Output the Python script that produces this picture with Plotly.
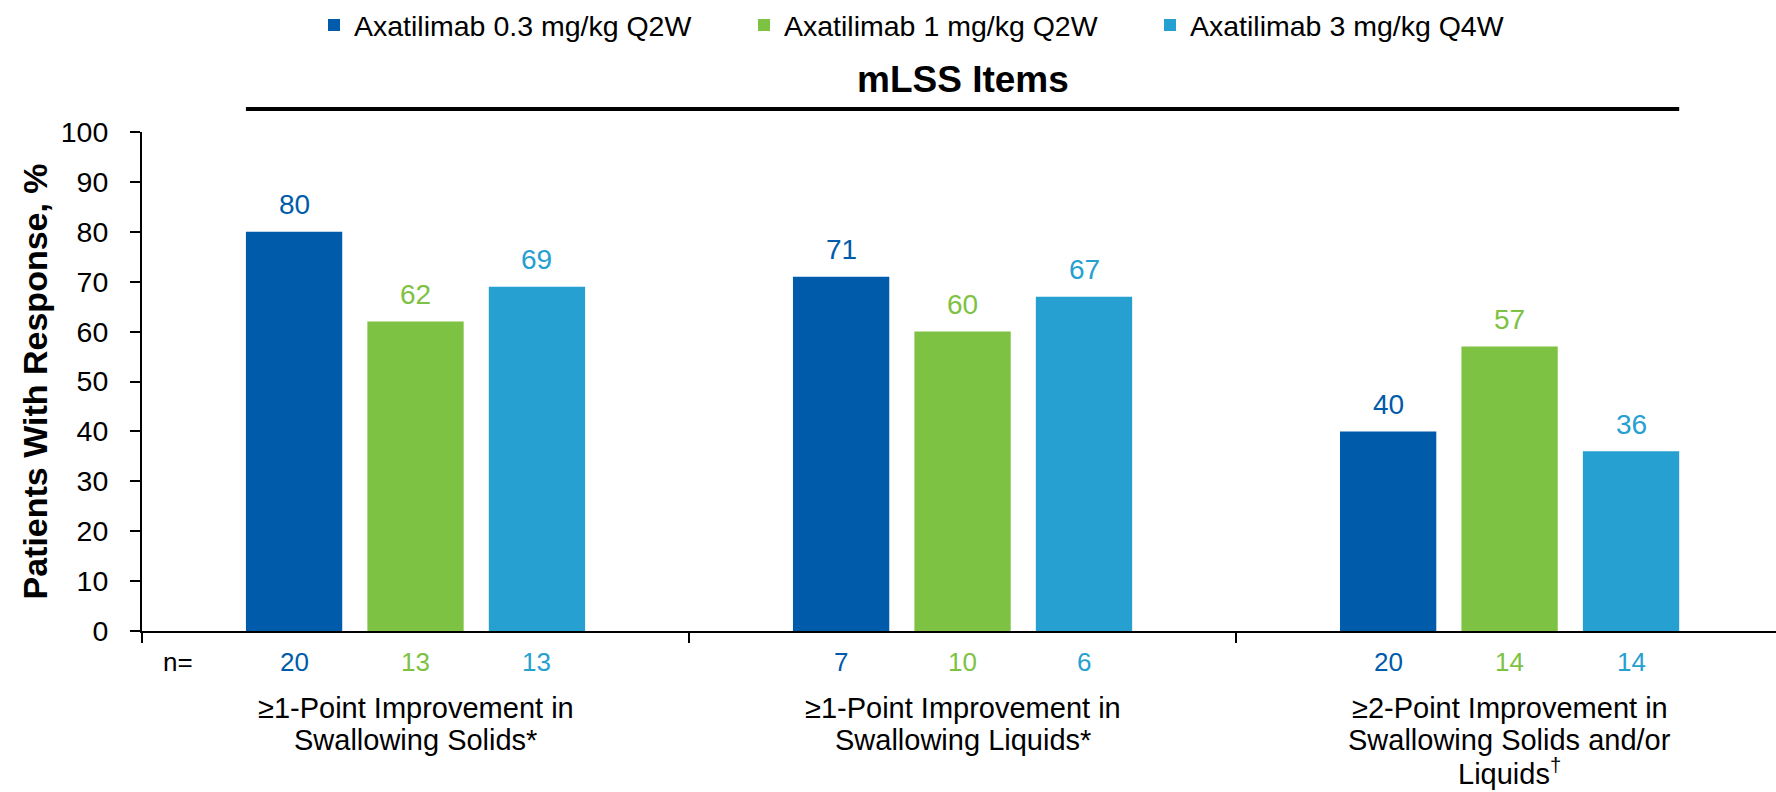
import plotly.graph_objects as go

# ---- data ----
categories = [
    ["≥1-Point Improvement in", "Swallowing Solids*"],
    ["≥1-Point Improvement in", "Swallowing Liquids*"],
    ["≥2-Point Improvement in", "Swallowing Solids and/or", "Liquids<sup>†</sup>"],
]
series_names = [
    "Axatilimab 0.3 mg/kg Q2W",
    "Axatilimab 1 mg/kg Q2W",
    "Axatilimab 3 mg/kg Q4W",
]
values_03 = [80, 71, 40]
values_1 = [62, 60, 57]
values_3 = [69, 67, 36]
n_03 = [20, 7, 20]
n_1 = [13, 10, 14]
n_3 = [13, 6, 14]
y_ticks = [0, 10, 20, 30, 40, 50, 60, 70, 80, 90, 100]
panel_title = "mLSS Items"
y_title = "Patients With Response, %"

colors = ["#005BAA", "#7DC242", "#269FD1"]
all_values = [values_03, values_1, values_3]
all_n = [n_03, n_1, n_3]

FONT = "Arial, Liberation Sans, sans-serif"
W, H = 1776, 792
L, R, T, B = 142, 0, 132, 161
plot_h = H - T - B

bargap = 0.334
bargroupgap = 0.207
slot = (1 - bargap) / 3
bar_w = slot * (1 - bargroupgap)

xpos = list(range(len(categories)))

fig = go.Figure()
legend_ids = ["legend", "legend2", "legend3"]
for i, (name, vals) in enumerate(zip(series_names, all_values)):
    fig.add_trace(go.Bar(
        x=xpos, y=vals, name=name,
        marker=dict(color=colors[i], line=dict(width=0)),
        legend=legend_ids[i],
        hoverinfo="skip",
    ))

def py2paper(py):
    return (H - B - py) / plot_h

annotations = []
# value labels
for i, vals in enumerate(all_values):
    off = (i - 1) * slot
    for xi, v in zip(xpos, vals):
        annotations.append(dict(
            x=xi + off, y=v, xref="x", yref="y", text=str(v), showarrow=False,
            yanchor="middle", xanchor="center", yshift=27,
            font=dict(family=FONT, size=28, color=colors[i]),
        ))
# n row
annotations.append(dict(
    x=-0.435, y=py2paper(662), xref="x", yref="paper", text="n=", showarrow=False,
    xanchor="center", yanchor="middle", font=dict(family=FONT, size=26, color="black"),
))
for i, ns in enumerate(all_n):
    off = (i - 1) * slot
    for xi, n in zip(xpos, ns):
        annotations.append(dict(
            x=xi + off, y=py2paper(662), xref="x", yref="paper", text=str(n), showarrow=False,
            xanchor="center", yanchor="middle", font=dict(family=FONT, size=26, color=colors[i]),
        ))
# category labels (one annotation per line)
line_py = [708, 740, 772]
for xi, lines in zip(xpos, categories):
    for j, t in enumerate(lines):
        annotations.append(dict(
            x=xi, y=py2paper(line_py[j]), xref="x", yref="paper", text=t, showarrow=False,
            xanchor="center", yanchor="middle", font=dict(family=FONT, size=29, color="black"),
        ))
# panel title
annotations.append(dict(
    x=1, y=py2paper(79), xref="x", yref="paper", text="<b>" + panel_title + "</b>",
    showarrow=False, xanchor="center", yanchor="middle",
    font=dict(family=FONT, size=37, color="black"),
))
# y title
annotations.append(dict(
    x=(34 - L) / (W - L - R), y=0.5, xref="paper", yref="paper", text="<b>" + y_title + "</b>",
    showarrow=False, textangle=-90, xanchor="center", yanchor="middle",
    font=dict(family=FONT, size=34, color="black"),
))

shapes = [dict(
    type="line", xref="x", yref="paper",
    x0=xpos[0] - slot - bar_w / 2, x1=xpos[-1] + slot + bar_w / 2,
    y0=py2paper(109), y1=py2paper(109),
    line=dict(color="black", width=4),
)]

legend_common = dict(
    orientation="h", yanchor="top", xanchor="left",
    font=dict(family=FONT, size=28.5, color="black"),
    bgcolor="rgba(0,0,0,0)", borderwidth=0, itemclick=False, itemdoubleclick=False,
)
legend_x_px = [314, 744, 1150]
pw = W - L - R

fig.update_layout(
    width=W, height=H,
    margin=dict(l=L, r=R, t=T, b=B, pad=0),
    paper_bgcolor="white", plot_bgcolor="white",
    barmode="group", bargap=bargap, bargroupgap=bargroupgap,
    font=dict(family=FONT, size=28, color="black"),
    showlegend=True,
    legend=dict(x=(legend_x_px[0] - L) / pw, y=py2paper(0), **legend_common),
    legend2=dict(x=(legend_x_px[1] - L) / pw, y=py2paper(0), **legend_common),
    legend3=dict(x=(legend_x_px[2] - L) / pw, y=py2paper(0), **legend_common),
    xaxis=dict(
        range=[-0.5, 2.487], tickmode="array", tickvals=[-0.5, 0.5, 1.5],
        showticklabels=False, ticks="outside", ticklen=10, tickwidth=1.5, tickcolor="black",
        showline=True, linecolor="black", linewidth=2, showgrid=False, zeroline=False,
        fixedrange=True,
    ),
    yaxis=dict(
        range=[0, 100], tickmode="array", tickvals=y_ticks,
        ticks="outside", ticklen=10, tickwidth=1.5, tickcolor="black",
        ticklabelstandoff=16,
        showline=True, linecolor="black", linewidth=2, showgrid=False, zeroline=False,
        tickfont=dict(family=FONT, size=28.5, color="black"), fixedrange=True,
    ),
    annotations=annotations,
    shapes=shapes,
)

fig.write_html(
    "out.html",
    config={"displayModeBar": False},
    post_script="document.body.style.margin='0px';",
)
